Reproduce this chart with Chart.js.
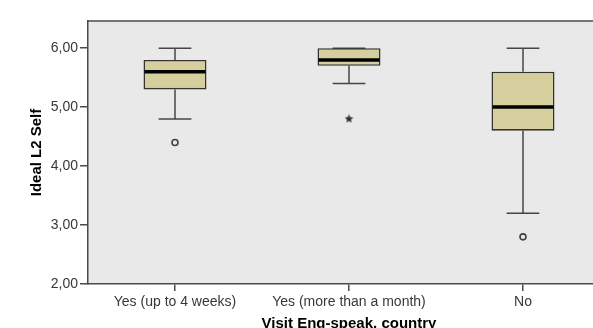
<!DOCTYPE html>
<html>
<head>
<meta charset="utf-8">
<script src="https://cdn.jsdelivr.net/npm/chart.js@4/dist/chart.umd.min.js"></script>
<style>
  html, body { margin: 0; padding: 0; background: #ffffff; overflow: hidden; }
  #wrap { width: 593px; height: 328px; overflow: hidden; position: relative; }
  canvas { display: block; }
</style>
</head>
<body>
<div id="wrap"><canvas id="c" width="622" height="334"></canvas></div>
<script>
// Ideal L2 Self by visits to an English-speaking country (box plot summary)
const categories = ['Yes (up to 4 weeks)', 'Yes (more than a month)', 'No'];
const whiskerLow  = [4.8, 5.4, 3.2];
const quartile1   = [5.3, 5.7, 4.6];
const medians     = [5.6, 5.8, 5.0];
const quartile3   = [5.8, 6.0, 5.6];
const whiskerHigh = [6.0, 6.0, 6.0];
const outlierValues = [4.4, 4.8, 2.8];
const outlierKinds  = ['outlier', 'extreme', 'outlier'];
const yTickValues = [2, 3, 4, 5, 6];
const yTickLabels = ['2,00', '3,00', '4,00', '5,00', '6,00'];

const FONT = "'Liberation Sans', Arial, sans-serif";
const PLOT_BG = '#e9e9e9';
const AXIS = '#4a4a4a';

// filled five-pointed star used for extreme values
function makeStar(size, color) {
  const cv = document.createElement('canvas');
  cv.width = size; cv.height = size;
  const g = cv.getContext('2d');
  const cx = size / 2, cy = size / 2, ro = size / 2, ri = ro * 0.45;
  g.beginPath();
  for (let k = 0; k < 10; k++) {
    const r = k % 2 === 0 ? ro : ri;
    const a = -Math.PI / 2 + k * Math.PI / 5;
    const px = cx + r * Math.cos(a), py = cy + r * Math.sin(a);
    if (k === 0) g.moveTo(px, py); else g.lineTo(px, py);
  }
  g.closePath();
  g.fillStyle = color;
  g.fill();
  return cv;
}
const starImg = makeStar(9, '#2e2e2e');

const boxPlotParts = {
  id: 'boxPlotParts',
  beforeDraw(chart) {
    const { ctx, chartArea: a } = chart;
    ctx.save();
    ctx.fillStyle = PLOT_BG;
    ctx.fillRect(a.left, a.top, a.right - a.left, a.bottom - a.top);
    ctx.restore();
  },
  beforeDatasetsDraw(chart) {
    // whiskers with end caps, behind the boxes
    const { ctx, scales: { y } } = chart;
    const bars = chart.getDatasetMeta(0).data;
    ctx.save();
    ctx.strokeStyle = '#454545';
    ctx.lineWidth = 1.5;
    bars.forEach((bar, i) => {
      const xc = bar.x;
      const cap = bar.width * 0.26;
      const yLo = y.getPixelForValue(whiskerLow[i]);
      const yHi = y.getPixelForValue(whiskerHigh[i]);
      const yQ1 = y.getPixelForValue(quartile1[i]);
      const yQ3 = y.getPixelForValue(quartile3[i]);
      ctx.beginPath();
      ctx.moveTo(xc, yQ1); ctx.lineTo(xc, yLo);
      ctx.moveTo(xc, yQ3); ctx.lineTo(xc, yHi);
      ctx.moveTo(xc - cap, yLo); ctx.lineTo(xc + cap, yLo);
      ctx.moveTo(xc - cap, yHi); ctx.lineTo(xc + cap, yHi);
      ctx.stroke();
    });
    ctx.restore();
  },
  afterDatasetDraw(chart, args) {
    if (args.index !== 0) return;
    // median bars across each box
    const { ctx, scales: { y } } = chart;
    const bars = chart.getDatasetMeta(0).data;
    ctx.save();
    ctx.strokeStyle = '#000000';
    ctx.lineWidth = 3.5;
    bars.forEach((bar, i) => {
      const ym = y.getPixelForValue(medians[i]);
      ctx.beginPath();
      ctx.moveTo(bar.x - bar.width / 2 + 1, ym);
      ctx.lineTo(bar.x + bar.width / 2 - 1, ym);
      ctx.stroke();
    });
    ctx.restore();
  },
  afterDraw(chart) {
    // top edge of the plot frame
    const { ctx, chartArea: a } = chart;
    ctx.save();
    ctx.strokeStyle = AXIS;
    ctx.lineWidth = 1.5;
    ctx.beginPath();
    ctx.moveTo(a.left, a.top);
    ctx.lineTo(a.right, a.top);
    ctx.stroke();
    ctx.restore();
  }
};

new Chart(document.getElementById('c'), {
  type: 'bar',
  data: {
    labels: categories,
    datasets: [
      {
        type: 'bar',
        data: quartile1.map((q, i) => [q, quartile3[i]]),
        backgroundColor: '#d4cf9c',
        borderColor: '#333333',
        borderWidth: 1.6,
        borderSkipped: false,
        barPercentage: 0.362,
        categoryPercentage: 1.0,
        order: 2
      },
      {
        type: 'line',
        data: outlierValues,
        showLine: false,
        pointStyle: outlierKinds.map(k => k === 'extreme' ? starImg : 'circle'),
        pointRadius: 3,
        pointBorderWidth: 1.6,
        pointBorderColor: '#404040',
        pointBackgroundColor: PLOT_BG,
        order: 1
      }
    ]
  },
  options: {
    responsive: false,
    animation: false,
    devicePixelRatio: 1,
    layout: { padding: { top: 21, right: 12, left: 0, bottom: 0 } },
    plugins: { legend: { display: false }, tooltip: { enabled: false } },
    scales: {
      x: {
        type: 'category',
        offset: true,
        grid: { offset: false, drawOnChartArea: false, drawTicks: true, tickLength: 7, color: AXIS, lineWidth: 1.5 },
        border: { display: true, color: AXIS, width: 1.5 },
        ticks: { color: '#383838', font: { family: FONT, size: 14 }, padding: 3, maxRotation: 0, autoSkip: false },
        title: { display: true, text: 'Visit Eng-speak. country', color: '#000', font: { family: FONT, size: 15, weight: 'bold' }, padding: { top: 0, bottom: 1 } },
        afterFit(scale) { scale.height = 50; }
      },
      y: {
        type: 'linear',
        min: 2,
        max: 6.46,
        afterBuildTicks(scale) { scale.ticks = yTickValues.map(v => ({ value: v })); },
        grid: { drawOnChartArea: false, drawTicks: true, tickLength: 8, color: AXIS, lineWidth: 1.5 },
        border: { display: true, color: AXIS, width: 1.5 },
        ticks: { color: '#383838', font: { family: FONT, size: 14 }, padding: 2,
                 callback: (v) => yTickLabels[yTickValues.indexOf(v)] },
        title: { display: true, text: 'Ideal L2 Self', color: '#000', font: { family: FONT, size: 15, weight: 'bold' }, padding: { top: 28, bottom: 0 } },
        afterFit(scale) { scale.width = 88; }
      }
    }
  },
  plugins: [boxPlotParts]
});
</script>
</body>
</html>
